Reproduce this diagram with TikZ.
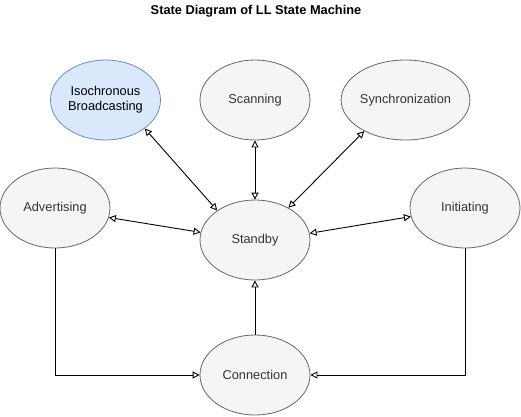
\documentclass[tikz,border=0pt]{standalone}
\usepackage{fontspec}
\setmainfont{Liberation Sans}
\usetikzlibrary{shapes.geometric,arrows.meta}
\definecolor{gfill}{HTML}{F5F5F5}
\definecolor{gline}{HTML}{666666}
\definecolor{gtext}{HTML}{333333}
\definecolor{bfill}{HTML}{DAE8FC}
\definecolor{bline}{HTML}{6C8EBF}
\begin{document}
\begin{tikzpicture}[x=1pt,y=1pt,
  state/.style={ellipse,draw=gline,fill=gfill,text=gtext,line width=0.8pt,minimum width=110pt,minimum height=80pt,inner sep=0pt,font=\fontsize{12.8}{15}\selectfont,align=center},
  bstate/.style={state,draw=bline,fill=bfill,text=black},
  conn/.style={line width=0.9pt,draw=black,-{Triangle[open,length=7pt,width=7pt]}},
  bconn/.style={line width=0.9pt,draw=black,{Triangle[open,length=7pt,width=7pt]}-{Triangle[open,length=7pt,width=7pt]}}]
\useasboundingbox (0,0) rectangle (521,-416);
\node[font=\bfseries\fontsize{12.8}{15}\selectfont] (title) at (256,-11) {State Diagram of LL State Machine};
\node[bstate] (iso) at (105.5,-100) {Isochronous\\Broadcasting};
\node[state] (scan) at (255,-100) {Scanning};
\node[state] (sync) at (405.5,-100) {Synchronization};
\node[state] (adv) at (55,-208) {Advertising};
\node[state] (init) at (465,-208) {Initiating};
\node[state] (stby) at (255,-240) {Standby};
\node[state] (cnx) at (255,-375) {Connection};
\draw[bconn] (iso.-36) -- (stby.142);
\draw[bconn] (scan.south) -- (stby.north);
\draw[bconn] (sync.217.6) -- (stby.44);
\draw[bconn] (adv.-10) -- (stby.172.6);
\draw[bconn] (stby.7) -- (init.189.5);
\draw[conn] (cnx.north) -- (stby.south);
\draw[conn] (adv.south) |- (cnx.west);
\draw[conn] (init.south) |- (cnx.east);
\end{tikzpicture}
\end{document}
